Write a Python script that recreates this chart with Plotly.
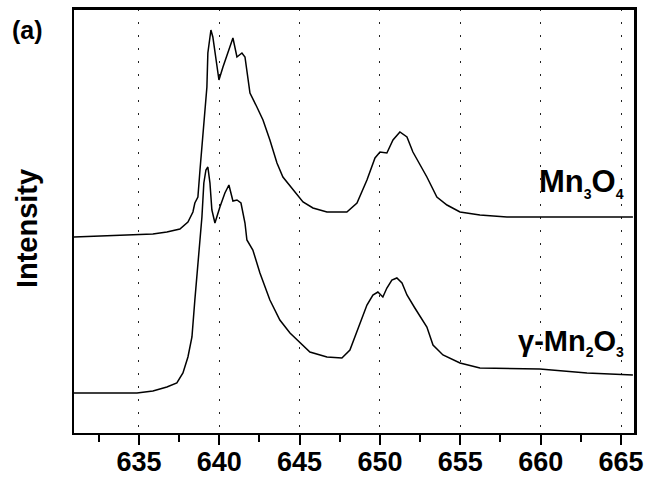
import plotly.graph_objects as go

# Energy loss (eV) and intensity (arb. units)
mn3o4_energy = [630.96, 635.0, 635.87, 636.74, 637.55, 638.05, 638.36, 638.48, 638.67, 638.80,
                638.98, 639.23, 639.29, 639.48, 639.60, 639.79, 639.98, 640.23, 640.54, 640.85,
                641.10, 641.41, 641.60, 641.91, 642.34, 642.72, 643.15, 643.59, 643.96, 644.58,
                645.21, 645.83, 646.70, 647.94, 648.57, 649.19, 649.69, 650.00, 650.43, 650.81,
                651.24, 651.68, 652.05, 652.92, 653.54, 654.17, 654.98, 656.22, 657.90, 659.52,
                665.74]
mn3o4_intensity = [196, 198, 199, 201, 204, 211, 221, 230, 236, 263,
                   296, 346, 380, 403, 396, 373, 353, 366, 380, 395,
                   376, 380, 376, 340, 326, 313, 293, 270, 256, 243,
                   231, 225, 221, 221, 230, 253, 275, 281, 280, 293,
                   301, 296, 281, 256, 236, 228, 221, 218, 216, 216,
                   216]

mn2o3_energy = [630.96, 632.14, 634.88, 635.87, 636.74, 637.36, 637.74, 638.05, 638.30, 638.48,
                638.61, 638.73, 638.92, 639.04, 639.17, 639.29, 639.42, 639.54, 639.73, 640.04,
                640.35, 640.60, 640.85, 641.10, 641.35, 641.60, 641.72, 642.09, 642.53, 643.15,
                643.77, 644.40, 645.02, 645.64, 646.70, 647.63, 648.13, 648.75, 649.19, 649.56,
                649.87, 650.18, 650.43, 650.74, 651.05, 651.37, 651.68, 652.17, 652.92, 653.30,
                653.92, 654.98, 656.22, 659.95, 662.88, 665.74]
mn2o3_intensity = [40, 40, 40, 42, 46, 50, 60, 76, 96, 133,
                   156, 183, 216, 250, 263, 266, 250, 223, 210, 226,
                   240, 248, 232, 233, 230, 210, 193, 183, 160, 133,
                   113, 100, 90, 81, 76, 75, 83, 110, 128, 138,
                   141, 136, 145, 153, 155, 150, 138, 125, 106, 88,
                   78, 70, 65, 64, 60, 58]

x_ticks = [635, 640, 645, 650, 655, 660, 665]

fig = go.Figure()
for xs, ys in [(mn3o4_energy, mn3o4_intensity), (mn2o3_energy, mn2o3_intensity)]:
    fig.add_trace(go.Scatter(x=xs, y=ys, mode="lines",
                             line=dict(color="black", width=1.5),
                             showlegend=False, hoverinfo="skip"))

fig.update_layout(
    width=648, height=477,
    margin=dict(l=74, r=13, t=9, b=44, autoexpand=False),
    paper_bgcolor="white", plot_bgcolor="white",
    font=dict(family="Liberation Sans, Arial, sans-serif", color="black"),
)

fig.update_xaxes(
    range=[630.96, 665.87], automargin=False,
    tickvals=x_ticks, ticktext=[str(v) for v in x_ticks],
    ticks="outside", ticklen=10, tickwidth=1.5, tickcolor="black",
    ticklabelstandoff=-6,
    tickfont=dict(size=27, weight="bold", family="Liberation Sans, Arial"),
    showline=True, mirror=True, linecolor="black", linewidth=2,
    showgrid=True, gridcolor="#222", gridwidth=1, griddash="2px,11px",
    minor=dict(ticks="outside", ticklen=7, tickwidth=1.5, tickcolor="black",
               tickvals=[632.5, 637.5, 642.5, 647.5, 652.5, 657.5, 662.5], showgrid=False),
    zeroline=False,
)
fig.update_yaxes(
    range=[0, 424], showticklabels=False, ticks="", automargin=False,
    showline=True, mirror=True, linecolor="black", linewidth=2,
    showgrid=False, zeroline=False,
)

# plot frame (top and right edges drawn explicitly as lines)
fig.add_shape(type="line", xref="paper", yref="paper", x0=0, x1=1, y0=1, y1=1,
              line=dict(color="black", width=2), layer="above")
fig.add_shape(type="line", xref="paper", yref="paper", x0=1, x1=1, y0=0, y1=1,
              line=dict(color="black", width=2), layer="above")

sub = "<sub><span style='font-size:14px'>{}</span></sub>"
fig.add_annotation(x=665.3, y=250, xref="x", yref="y", xanchor="right", yanchor="middle",
                   text="Mn" + sub.format("3") + "O" + sub.format("4"), showarrow=False,
                   font=dict(size=31, weight="bold", family="Liberation Sans, Arial"))
fig.add_annotation(x=665.3, y=91, xref="x", yref="y", xanchor="right", yanchor="middle",
                   text="γ-Mn" + sub.format("2") + "O" + sub.format("3"), showarrow=False,
                   font=dict(size=29, weight="bold", family="Liberation Sans, Arial"))
fig.add_annotation(x=-0.082, y=0.95, xref="paper", yref="paper", xanchor="center", yanchor="middle",
                   text="(a)", showarrow=False,
                   font=dict(size=25, weight="bold", family="Liberation Sans, Arial"))
fig.add_annotation(x=-0.084, y=0.483, xref="paper", yref="paper", xanchor="center", yanchor="middle",
                   text="Intensity", textangle=-90, showarrow=False,
                   font=dict(size=29, weight="bold", family="Liberation Sans, Arial"))

fig.write_html("out.html")
